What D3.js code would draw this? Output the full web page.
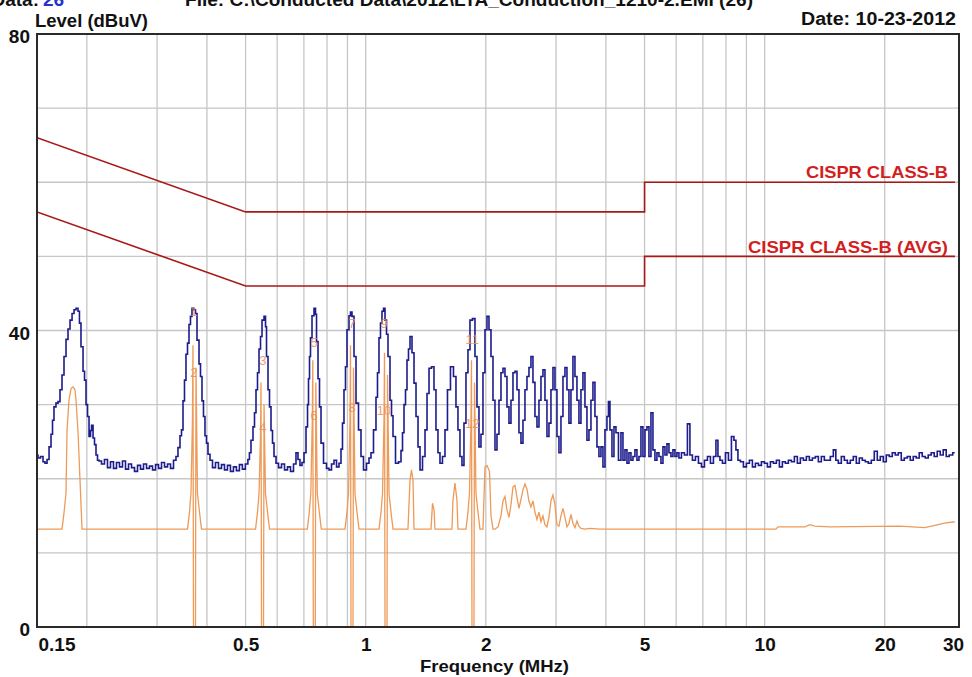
<!DOCTYPE html>
<html><head><meta charset="utf-8">
<script src="https://cdn.jsdelivr.net/npm/d3@7"></script>
<style>
html,body{margin:0;padding:0;background:#fff;overflow:hidden;}
svg{display:block;}
text{font-family:"Liberation Sans",Arial,sans-serif;font-weight:bold;fill:#111;}
.tick text{font-size:19px;}
</style></head><body>
<svg id="chart" width="972" height="677"></svg>
<script>
// ---------- data ----------
const xTickValues = [0.15, 0.5, 1, 2, 5, 10, 20, 30];
const yTickValues = [0, 40, 80];
const gridFreqs = [0.2,0.3,0.4,0.5,0.6,0.7,0.8,0.9,1,2,3,4,5,6,7,8,9,10,20];
const gridLevels = [10,20,30,40,50,60,70];

const limitFreq = [0.15, 0.5, 5, 5, 30];
const qpLimit   = [66, 56, 56, 60, 60];
const avgLimit  = [56, 46, 46, 50, 50];

// peak trace [MHz, dBuV]
const peakTrace = [[0.150,23.2],[0.1517,22.8],[0.1544,23.0],[0.1562,22.3],[0.1580,22.1],[0.1599,22.6],[0.1617,24.3],[0.1636,26.0],[0.1645,27.9],[0.1664,29.7],[0.1683,30.2],[0.1703,30.4],[0.1723,32.0],[0.1743,34.0],[0.1763,36.5],[0.1784,38.8],[0.1804,40.2],[0.1826,41.4],[0.1847,42.3],[0.1868,42.8],[0.1890,43.0],[0.1911,42.6],[0.1922,41.0],[0.1945,37.8],[0.1968,34.5],[0.1979,33.3],[0.2002,30.0],[0.2014,28.4],[0.2037,25.7],[0.2049,26.5],[0.2061,27.2],[0.2085,25.5],[0.2096,24.6],[0.2121,23.2],[0.2133,22.5],[0.2158,22.4],[0.2195,22.0],[0.2233,22.6],[0.2273,21.5],[0.2312,22.3],[0.2353,21.4],[0.2394,22.2],[0.2436,21.6],[0.2478,22.4],[0.2522,21.3],[0.2566,22.0],[0.2611,21.5],[0.2656,21.0],[0.2703,21.8],[0.2750,21.3],[0.2798,22.0],[0.2847,21.4],[0.2897,21.7],[0.2947,21.2],[0.2999,21.9],[0.3051,21.4],[0.3104,22.2],[0.3159,21.6],[0.3214,22.0],[0.3270,21.4],[0.3326,22.5],[0.3365,23.0],[0.3404,24.2],[0.3444,25.8],[0.3464,26.6],[0.3504,30.5],[0.3524,33.3],[0.3565,36.8],[0.3586,38.3],[0.3627,40.8],[0.3648,41.9],[0.3690,43.0],[0.3733,42.8],[0.3755,42.3],[0.3799,38.7],[0.3843,35.5],[0.3865,33.8],[0.3910,30.5],[0.3932,28.4],[0.3978,25.8],[0.4001,24.8],[0.4048,23.3],[0.4095,22.5],[0.4166,21.5],[0.4239,22.2],[0.4313,21.4],[0.4388,21.9],[0.4464,21.2],[0.4542,21.8],[0.4621,21.0],[0.4701,21.6],[0.4783,21.1],[0.4866,21.9],[0.4950,21.3],[0.5037,22.0],[0.5095,22.6],[0.5128,23.5],[0.5188,25.2],[0.5248,27.0],[0.5279,28.9],[0.5340,32.0],[0.5371,34.3],[0.5434,37.5],[0.5465,39.2],[0.5529,41.4],[0.5593,41.9],[0.5625,40.5],[0.5658,36.5],[0.5723,32.0],[0.5756,29.7],[0.5823,26.5],[0.5857,24.8],[0.5925,23.0],[0.5994,22.1],[0.6099,21.5],[0.6205,22.0],[0.6313,21.2],[0.6423,21.6],[0.6535,21.0],[0.6649,22.0],[0.6726,23.5],[0.6804,22.6],[0.6883,21.8],[0.6963,22.2],[0.7045,23.5],[0.7127,27.0],[0.7168,30.0],[0.7209,33.5],[0.7251,36.5],[0.7293,39.0],[0.7378,42.0],[0.7464,43.0],[0.7507,42.2],[0.7551,38.5],[0.7638,33.5],[0.7682,29.7],[0.7772,24.8],[0.7907,22.1],[0.8044,21.4],[0.8139,21.2],[0.8280,22.0],[0.8377,22.5],[0.8523,21.6],[0.8621,22.1],[0.8721,24.0],[0.8771,27.5],[0.8874,32.0],[0.8925,35.1],[0.9029,40.1],[0.9134,42.0],[0.9187,42.5],[0.9294,41.9],[0.9401,36.5],[0.9511,30.2],[0.9676,26.6],[0.9788,23.0],[0.9960,21.2],[1.0133,22.1],[1.0251,22.8],[1.0370,23.5],[1.0551,26.6],[1.0673,31.0],[1.0735,34.3],[1.0860,39.0],[1.0923,41.0],[1.1050,42.6],[1.1114,43.0],[1.1244,41.4],[1.1309,39.5],[1.1440,36.5],[1.1573,30.6],[1.1640,28.5],[1.1775,25.7],[1.1980,22.1],[1.2190,22.3],[1.2331,23.8],[1.2403,26.2],[1.2547,30.0],[1.2620,32.0],[1.2763,36.0],[1.2840,37.5],[1.2989,39.2],[1.3140,37.0],[1.3292,32.9],[1.3447,28.4],[1.3603,24.3],[1.3761,21.2],[1.4001,23.0],[1.4164,26.6],[1.4329,31.5],[1.4494,34.9],[1.4748,35.1],[1.4915,32.0],[1.5089,26.6],[1.5264,23.5],[1.5441,22.1],[1.5711,23.0],[1.5893,26.6],[1.6170,32.0],[1.6453,35.1],[1.6740,33.8],[1.6934,29.7],[1.7130,26.6],[1.7330,23.0],[1.7531,21.8],[1.7735,27.5],[1.7941,34.3],[1.8149,37.4],[1.8360,41.4],[1.8681,41.6],[1.8897,36.5],[1.9117,29.7],[1.9339,24.3],[1.9563,26.0],[1.9791,34.3],[2.0021,40.1],[2.0253,41.9],[2.0488,40.1],[2.0726,36.5],[2.0967,30.6],[2.1210,23.9],[2.1457,26.0],[2.1705,30.6],[2.1958,34.3],[2.2212,34.9],[2.2470,33.8],[2.2731,29.7],[2.2995,27.5],[2.3262,30.6],[2.3532,34.3],[2.3805,34.5],[2.4081,32.0],[2.4360,26.2],[2.4643,24.8],[2.4929,27.9],[2.5218,32.0],[2.5511,33.8],[2.5808,35.0],[2.6107,36.5],[2.6410,33.0],[2.6717,28.4],[2.7027,27.0],[2.7341,30.6],[2.7658,33.8],[2.7979,34.7],[2.8304,30.6],[2.8632,25.7],[2.8965,27.5],[2.9301,32.0],[2.9641,35.0],[2.9985,32.0],[3.0333,25.7],[3.0686,23.5],[3.1042,28.4],[3.1402,33.8],[3.1767,35.0],[3.2135,32.0],[3.2508,27.5],[3.2886,32.0],[3.3267,36.5],[3.3653,33.8],[3.4044,30.6],[3.4440,27.5],[3.4839,32.0],[3.5244,34.3],[3.5653,29.7],[3.6066,25.2],[3.6486,26.6],[3.6909,30.6],[3.7337,33.0],[3.7771,28.4],[3.8209,24.3],[3.8654,23.0],[3.9102,24.3],[3.9556,21.6],[4.0015,26.6],[4.0479,28.4],[4.0714,30.4],[4.1187,26.6],[4.1666,23.0],[4.2149,27.0],[4.2638,26.2],[4.3383,22.5],[4.3887,26.2],[4.4397,22.5],[4.4913,23.9],[4.5435,22.1],[4.5960,23.5],[4.6494,22.5],[4.7033,23.0],[4.7579,23.9],[4.8131,22.5],[4.8690,23.0],[4.9255,27.0],[4.9827,23.0],[5.0405,26.6],[5.0990,27.0],[5.1580,23.0],[5.2179,28.9],[5.2784,23.9],[5.3397,22.5],[5.4017,23.5],[5.4650,23.0],[5.5284,22.1],[5.5926,24.3],[5.6575,23.2],[5.7231,24.7],[5.7890,23.5],[5.8562,23.0],[5.9242,23.9],[5.9929,23.0],[6.0625,23.5],[6.1330,22.8],[6.2398,23.5],[6.3486,23.2],[6.4592,27.4],[6.5344,23.2],[6.6483,22.5],[6.7642,23.0],[6.8840,22.1],[7.0041,21.6],[7.1262,22.5],[7.2504,23.0],[7.3768,22.1],[7.5054,23.0],[7.5926,25.2],[7.6809,23.0],[7.7700,22.5],[7.9057,22.1],[8.0437,23.5],[8.1840,22.5],[8.3268,25.7],[8.4235,25.2],[8.5213,23.9],[8.6203,22.5],[8.7707,22.3],[8.9237,21.6],[9.0794,22.1],[9.2378,22.5],[9.3990,21.6],[9.5630,22.1],[9.7300,21.8],[9.8997,22.3],[10.072,22.1],[10.248,21.6],[10.427,22.3],[10.609,22.1],[10.794,22.5],[10.982,21.6],[11.174,22.3],[11.369,22.1],[11.567,22.5],[11.769,22.3],[11.974,23.0],[12.183,22.1],[12.396,22.8],[12.612,22.5],[12.832,23.0],[13.056,22.5],[13.284,22.8],[13.516,23.0],[13.751,22.3],[13.991,23.0],[14.235,22.5],[14.484,22.5],[14.736,23.0],[14.994,23.9],[15.167,22.5],[15.432,22.1],[15.701,23.0],[15.975,22.5],[16.254,22.1],[16.537,22.5],[16.826,23.0],[17.119,22.1],[17.418,22.8],[17.722,22.5],[18.031,22.3],[18.346,22.1],[18.666,22.5],[18.992,23.7],[19.323,22.5],[19.660,23.0],[20.004,22.3],[20.353,23.2],[20.708,23.0],[21.069,23.5],[21.437,23.2],[21.811,23.5],[22.191,22.5],[22.578,22.8],[22.972,23.0],[23.373,22.5],[23.781,23.0],[24.196,22.8],[24.618,23.5],[25.048,23.0],[25.485,22.8],[25.929,23.2],[26.382,23.5],[26.842,23.0],[27.310,23.7],[27.787,23.2],[28.272,23.9],[28.765,23.0],[29.267,23.2],[29.950,23.5]];

// average trace [MHz, dBuV]
const avgTrace = [[0.150,13.2],[0.1733,13.2],[0.1753,15.4],[0.1773,18.0],[0.1784,26.6],[0.1804,30.6],[0.1826,32.2],[0.1847,32.4],[0.1868,32.0],[0.1879,30.6],[0.1901,26.2],[0.1922,20.0],[0.1945,13.2],
[0.3575,13.2],[0.3617,15.5],[0.3648,18.0],[0.3679,28.0],[0.3690,38.0],[0.3701,0],[0.3744,0],[0.3755,35.0],[0.3788,18.0],[0.3832,15.5],[0.3876,13.2],
[0.5295,13.2],[0.5356,15.5],[0.5403,18.0],[0.5450,26.0],[0.5465,33.0],[0.5481,0],[0.5545,0],[0.5561,30.0],[0.5609,18.0],[0.5675,15.5],[0.5740,13.2],
[0.7139,13.2],[0.7221,15.5],[0.7284,18.0],[0.7348,28.0],[0.7369,36.0],[0.7390,0],[0.7476,0],[0.7498,33.0],[0.7563,18.0],[0.7651,15.5],[0.7739,13.2],
[0.8874,13.2],[0.8977,15.5],[0.9055,18.0],[0.9134,28.0],[0.9160,38.0],[0.9187,0],[0.9294,0],[0.9320,35.0],[0.9401,18.0],[0.9511,15.5],[0.9621,13.2],
[1.0799,13.2],[1.0924,15.5],[1.1019,18.0],[1.1115,28.0],[1.1147,37.0],[1.1179,0],[1.1309,0],[1.1342,34.0],[1.1440,18.0],[1.1573,15.5],[1.1707,13.2],
[1.2763,13.2],[1.2914,19.8],[1.3026,21.2],[1.3140,19.8],[1.3216,13.2],
[1.4578,13.2],[1.4705,16.7],[1.4833,15.8],[1.4915,13.2],
[1.6453,13.2],[1.6548,17.1],[1.6740,19.4],[1.6934,17.1],[1.7032,13.2],
[1.7839,13.2],[1.8045,15.5],[1.8202,18.0],[1.8361,28.0],[1.8414,36.0],[1.8467,0],[1.8682,0],[1.8736,33.0],[1.8898,18.0],[1.9117,15.5],[1.9339,13.2],
[1.9678,13.2],[1.9905,21.6],[2.0137,21.8],[2.0429,21.0],[2.0607,15.0],[2.0846,13.2],
[2.1087,13.2],[2.1457,13.5],[2.1831,15.0],[2.2085,17.0],[2.2341,17.6],[2.2600,15.8],[2.2863,14.8],[2.3128,16.5],[2.3397,18.9],[2.3668,19.1],[2.3943,17.5],[2.4220,16.0],[2.4501,17.2],[2.4786,18.5],[2.5073,19.3],[2.5364,18.6],[2.5659,17.0],[2.5957,16.2],[2.6258,17.0],[2.6563,15.5],[2.6871,14.5],[2.7184,15.5],[2.7499,14.2],[2.7818,15.0],[2.8141,13.8],[2.8468,13.5],[2.8798,14.8],[2.9132,17.0],[2.9471,17.8],[2.9813,16.5],[3.0159,13.8],[3.0509,13.6],[3.0863,15.0],[3.1221,16.0],[3.1584,14.8],[3.1951,13.5],[3.2322,14.0],[3.2697,15.2],[3.3076,14.0],[3.3460,13.4],[3.3848,14.3],[3.4242,13.6],[3.4639,13.3],[3.5448,13.2],[3.6486,13.3],[3.8654,13.2],
[6.884,13.2],[10.670,13.2],[10.794,13.5],[12.612,13.5],[12.979,13.8],[13.36,13.6],[14.57,13.5],[21.81,13.6],[25.19,13.4],[26.69,13.7],[28.27,14.0],[29.95,14.2]];

const markerLabel = ["1","2","3","4","5","6","7","8","9","10","11","12"];
const markerFreq  = [0.371,0.371,0.552,0.552,0.742,0.742,0.924,0.924,1.112,1.112,1.85,1.85];
const markerLevel = [42.6,34.4,36.0,27.0,38.5,28.6,41.0,29.7,41.0,29.3,38.8,27.5];

const limitLabels = ["CISPR CLASS-B", "CISPR CLASS-B (AVG)"];

// ---------- drawing ----------
const svg = d3.select("#chart");
const x = d3.scaleLog().domain([0.15, 30]).range([37, 955]);
const y = d3.scaleLinear().domain([0, 80]).range([627, 34]);
const frameL = x(0.15), frameR = x(30) + 4, frameT = y(80), frameB = y(0);

svg.append("defs").append("clipPath").attr("id","plotclip")
  .append("rect").attr("x",frameL).attr("y",frameT).attr("width",frameR-frameL).attr("height",frameB-frameT);

// grid
svg.append("g").selectAll("line").data(gridFreqs).join("line")
  .attr("x1",d=>x(d)).attr("x2",d=>x(d)).attr("y1",frameT).attr("y2",frameB)
  .attr("stroke","#c6c6c6").attr("stroke-width",1.3);
svg.append("g").selectAll("line").data(gridLevels).join("line")
  .attr("x1",frameL).attr("x2",frameR).attr("y1",d=>y(d)).attr("y2",d=>y(d))
  .attr("stroke","#c6c6c6").attr("stroke-width",1.3);

const plot = svg.append("g").attr("clip-path","url(#plotclip)");

// limit lines
const limLine = d3.line().x(d=>x(d[0])).y(d=>y(d[1]));
[qpLimit, avgLimit].forEach(arr=>{
  plot.append("path").datum(limitFreq.map((f,i)=>[f,arr[i]]))
    .attr("d",limLine).attr("fill","none").attr("stroke","#a81818").attr("stroke-width",1.6);
});

// peak trace
plot.append("path").datum(peakTrace)
  .attr("d", d3.line().x(d=>x(d[0])).y(d=>y(d[1])).curve(d3.curveStep))
  .attr("fill","none").attr("stroke","#1c1c8c").attr("stroke-width",1.6).attr("stroke-linejoin","miter");

// average trace
plot.append("path").datum(avgTrace)
  .attr("d", d3.line().x(d=>x(d[0])).y(d=>y(d[1])))
  .attr("fill","none").attr("stroke","#ee9a58").attr("stroke-width",1.3);

// marker labels
svg.append("g").selectAll("text").data(markerLabel).join("text")
  .attr("x",(d,i)=>x(markerFreq[i])).attr("y",(d,i)=>y(markerLevel[i])+5)
  .attr("text-anchor","middle").style("font-size","13px").style("font-weight","normal")
  .style("fill","#e8915a").style("opacity",0.85).text(d=>d);

// limit labels
svg.append("text").attr("x",948).attr("y",y(qpLimit[4])-4).attr("text-anchor","end")
  .attr("textLength",142).attr("lengthAdjust","spacingAndGlyphs")
  .style("font-size","17px").style("fill","#d21e1e").text(limitLabels[0]);
svg.append("text").attr("x",948).attr("y",y(avgLimit[4])-3).attr("text-anchor","end")
  .attr("textLength",200).attr("lengthAdjust","spacingAndGlyphs")
  .style("font-size","17px").style("fill","#d21e1e").text(limitLabels[1]);

// frame
svg.append("rect").attr("x",frameL).attr("y",frameT).attr("width",frameR-frameL).attr("height",frameB-frameT)
  .attr("fill","none").attr("stroke","#2a2a2a").attr("stroke-width",2);

// axes
const gx = svg.append("g").attr("transform",`translate(0,${frameB})`)
  .call(d3.axisBottom(x).tickValues(xTickValues).tickSize(0).tickPadding(11).tickFormat(d=>String(d)));
gx.attr("font-size",null).attr("font-family",null);
gx.select(".domain").remove();
gx.selectAll(".tick text").filter(d=>d===0.15).attr("text-anchor","start").attr("x",1);
gx.selectAll(".tick text").filter(d=>d===30).attr("x",-2);

const gy = svg.append("g").attr("transform",`translate(${frameL},0)`)
  .call(d3.axisLeft(y).tickValues(yTickValues).tickSize(0).tickPadding(7));
gy.attr("font-size",null).attr("font-family",null);
gy.select(".domain").remove();
gy.selectAll(".tick text").attr("dy","0.47em");

// titles
svg.append("text").attr("x",35).attr("y",27).attr("textLength",113).attr("lengthAdjust","spacingAndGlyphs")
  .style("font-size","18px").text("Level (dBuV)");
svg.append("text").attr("x",956).attr("y",25).attr("text-anchor","end").attr("textLength",155).attr("lengthAdjust","spacingAndGlyphs")
  .style("font-size","18px").text("Date: 10-23-2012");
svg.append("text").attr("x",420).attr("y",672).attr("textLength",149).attr("lengthAdjust","spacingAndGlyphs")
  .style("font-size","17px").text("Frequency (MHz)");
svg.append("text").attr("x",39).attr("y",6).attr("text-anchor","end")
  .style("font-size","19px").text("Data:");
svg.append("text").attr("x",43).attr("y",6).style("font-size","19px").style("fill","#2233cc").text("26");
svg.append("text").attr("x",185).attr("y",6).attr("textLength",568).attr("lengthAdjust","spacingAndGlyphs")
  .style("font-size","19px").text("File: C:\\Conducted Data\\2012\\LTA_Conduction_1210-2.EMI (26)");
</script>
</body></html>
